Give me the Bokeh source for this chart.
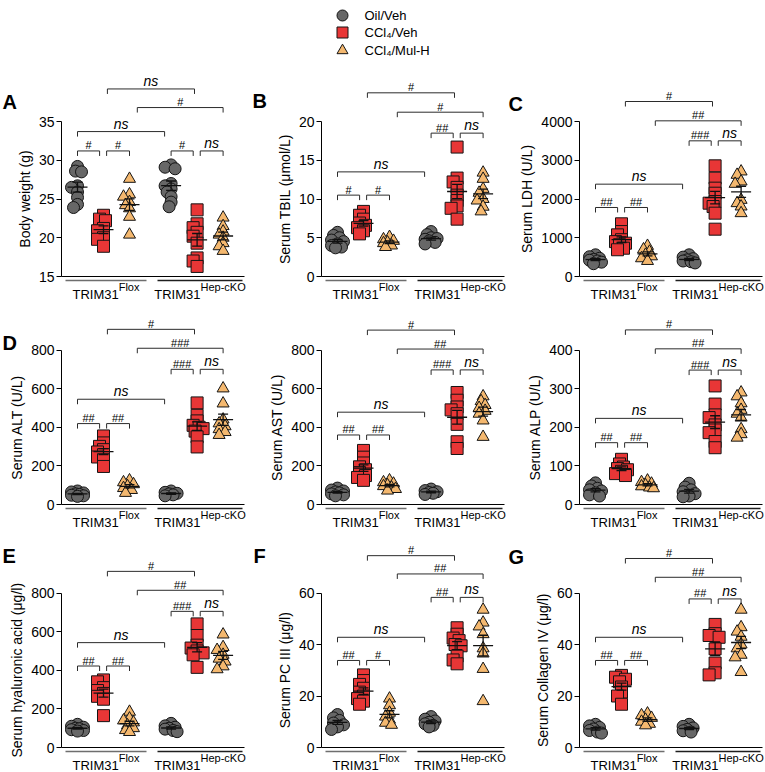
import numpy as np
from bokeh.plotting import figure
from bokeh.models import Range1d, FixedTicker, ColumnDataSource
from bokeh.layouts import column, row
from bokeh.core.properties import value
from bokeh.embed import file_html
from bokeh.resources import INLINE

FONT = "Liberation Sans"

# ---------------- data ----------------
group_names = ["Oil/Veh", "CCl\u2084/Veh", "CCl\u2084/Mul-H"]
geno_main = "TRIM31"
geno_sup = ["Flox", "Hep-cKO"]

# A  Body weight (g)
bw_flox_oil = [29.2, 28.6, 28.5, 26.7, 26.5, 25.9, 25.2, 24.3, 23.9]
bw_flox_ccl4 = [22.9, 22.4, 22.2, 21.2, 20.9, 20.0, 19.8, 18.9]
bw_flox_mul = [27.6, 25.6, 25.3, 24.6, 24.2, 23.8, 22.7, 20.4]
bw_ko_oil = [29.4, 29.1, 28.9, 27.0, 26.7, 26.3, 25.9, 25.3, 24.6, 24.0]
bw_ko_ccl4 = [23.6, 21.8, 21.3, 20.7, 20.2, 19.3, 17.4, 17.0, 16.3]
bw_ko_mul = [22.6, 21.5, 20.8, 20.4, 20.0, 19.3, 18.9, 18.3]
bw_sig = [(0, 1, 31.2, "#"), (1, 2, 31.2, "#"), (3, 4, 31.2, "#"), (4, 5, 31.2, "ns"),
          (0, 3, 33.7, "ns"), (2, 5, 36.8, "#"), (1, 4, 39.2, "ns")]

# B  Serum TBIL
tbil_flox_oil = [5.7, 5.3, 5.0, 4.7, 4.5, 4.2, 4.0, 3.8, 3.7]
tbil_flox_ccl4 = [8.4, 7.9, 7.4, 6.9, 6.6, 6.3, 5.9, 5.5]
tbil_flox_mul = [5.1, 4.8, 4.6, 4.4, 4.3, 4.0, 3.8]
tbil_ko_oil = [5.8, 5.4, 5.0, 4.9, 4.8, 4.6, 4.4, 4.2]
tbil_ko_ccl4 = [16.7, 12.7, 12.2, 11.5, 10.5, 9.8, 9.1, 8.8, 7.4]
tbil_ko_mul = [13.4, 12.6, 11.3, 10.8, 10.0, 9.8, 9.0, 8.4]
tbil_sig = [(0, 1, 10.5, "#"), (1, 2, 10.5, "#"), (3, 4, 18.5, "##"), (4, 5, 18.5, "ns"),
            (0, 3, 13.5, "ns"), (2, 5, 21.2, "#"), (1, 4, 23.7, "#")]

# C  Serum LDH
ldh_flox_oil = [560, 510, 470, 440, 420, 400, 370, 330]
ldh_flox_ccl4 = [1360, 1160, 1075, 950, 900, 860, 820, 730, 690]
ldh_flox_mul = [790, 700, 640, 560, 520, 470, 400]
ldh_ko_oil = [560, 500, 460, 430, 400, 380, 350]
ldh_ko_ccl4 = [2856, 2538, 2280, 2150, 1935, 1892, 1806, 1634, 1221]
ldh_ko_mul = [2710, 2624, 2452, 2391, 1978, 1892, 1806, 1634]
ldh_sig = [(0, 1, 1781, "##"), (1, 2, 1781, "##"), (3, 4, 3501, "###"), (4, 5, 3501, "ns"),
           (0, 3, 2383, "ns"), (2, 5, 4017, "##"), (1, 4, 4516, "#")]

# D  Serum ALT
alt_flox_oil = [70, 65, 60, 55, 52, 48, 45, 42]
alt_flox_ccl4 = [355, 319, 301, 284, 272, 258, 246, 232, 197]
alt_flox_mul = [125, 115, 105, 95, 85, 75, 60]
alt_ko_oil = [70, 63, 58, 55, 50, 45]
alt_ko_ccl4 = [526, 462, 433, 410, 400, 393, 380, 350, 298]
alt_ko_mul = [601, 523, 440, 420, 405, 390, 375, 360]
alt_sig = [(0, 1, 419, "##"), (1, 2, 419, "##"), (3, 4, 700, "###"), (4, 5, 700, "ns"),
           (0, 3, 545, "ns"), (2, 5, 809, "###"), (1, 4, 907, "#")]

# Serum AST
ast_flox_oil = [85, 75, 70, 65, 60, 55, 50, 45]
ast_flox_ccl4 = [280, 245, 215, 195, 180, 165, 150, 140, 125]
ast_flox_mul = [125, 115, 108, 100, 95, 88, 80, 72]
ast_ko_oil = [80, 72, 66, 62, 58, 52]
ast_ko_ccl4 = [580, 540, 505, 490, 470, 415, 325, 290]
ast_ko_mul = [560, 535, 515, 500, 485, 470, 435, 350]
ast_sig = [(0, 1, 360, "##"), (1, 2, 360, "##"), (3, 4, 697, "###"), (4, 5, 697, "ns"),
           (0, 3, 478, "ns"), (2, 5, 805, "##"), (1, 4, 903, "#")]

# Serum ALP
alp_flox_oil = [56, 48, 42, 38, 35, 30, 25, 22]
alp_flox_ccl4 = [117, 105, 97, 93, 90, 86, 80, 75]
alp_flox_mul = [62, 58, 54, 50, 47, 44, 42]
alp_ko_oil = [55, 45, 38, 33, 28, 22, 20]
alp_ko_ccl4 = [307, 260, 232, 225, 206, 193, 186, 163, 147]
alp_ko_mul = [290, 280, 262, 245, 235, 225, 195, 182, 173]
alp_sig = [(0, 1, 160, "##"), (1, 2, 160, "##"), (3, 4, 348, "###"), (4, 5, 348, "ns"),
           (0, 3, 223, "ns"), (2, 5, 403, "##"), (1, 4, 452, "#")]

# E  Serum hyaluronic acid
ha_flox_oil = [120, 110, 105, 100, 97, 92, 88, 85]
ha_flox_ccl4 = [350, 340, 310, 295, 280, 265, 250, 165]
ha_flox_mul = [185, 150, 140, 130, 115, 100, 90, 80]
ha_ko_oil = [125, 112, 105, 100, 95, 88, 82]
ha_ko_ccl4 = [640, 580, 530, 515, 500, 490, 480, 415]
ha_ko_mul = [585, 520, 505, 480, 460, 445, 420, 405]
ha_sig = [(0, 1, 422, "##"), (1, 2, 422, "##"), (3, 4, 705, "###"), (4, 5, 705, "ns"),
          (0, 3, 543, "ns"), (2, 5, 814, "##"), (1, 4, 912, "#")]

# F  Serum PC III
pc3_flox_oil = [12.8, 11.5, 10.5, 9.5, 8.8, 8.0, 7.0]
pc3_flox_ccl4 = [28.2, 26.0, 24.5, 23.0, 21.5, 20.0, 19.0, 18.0, 16.8]
pc3_flox_mul = [19.0, 16.4, 13.5, 12.0, 10.8, 9.6, 8.8]
pc3_ko_oil = [12.0, 11.0, 10.3, 9.8, 9.2, 8.6, 8.0]
pc3_ko_ccl4 = [46.5, 44.0, 42.5, 41.5, 40.0, 39.5, 35.5, 34.0, 32.5]
pc3_ko_mul = [53.5, 48.5, 47.0, 44.0, 38.5, 36.5, 30.5, 18.0]
pc3_sig = [(0, 1, 33.8, "##"), (1, 2, 33.8, "#"), (3, 4, 58.3, "##"), (4, 5, 58.3, "ns"),
           (0, 3, 42.8, "ns"), (2, 5, 67.4, "##"), (1, 4, 74.5, "#")]

# G  Serum Collagen IV
c4_flox_oil = [9.0, 8.4, 7.8, 7.2, 6.6, 6.0, 5.6]
c4_flox_ccl4 = [28.0, 27.3, 26.5, 25.5, 23.5, 21.5, 20.0, 16.8]
c4_flox_mul = [13.2, 12.5, 11.5, 10.8, 10.0, 9.2, 8.6]
c4_ko_oil = [9.0, 8.2, 7.6, 7.0, 6.5, 6.0]
c4_ko_ccl4 = [47.8, 44.2, 43.5, 42.8, 38.3, 32.8, 29.0, 28.2]
c4_ko_mul = [53.5, 46.7, 45.0, 43.0, 40.0, 38.5, 36.0, 35.0, 29.3]
c4_sig = [(0, 1, 33.8, "##"), (1, 2, 33.8, "##"), (3, 4, 57.7, "##"), (4, 5, 57.7, "ns"),
          (0, 3, 42.8, "ns"), (2, 5, 66.1, "##"), (1, 4, 73.4, "#")]

# ---------------- style / layout ----------------
MARKERS = ["circle", "square", "triangle"]
FILLS = ["#676767", "#e83636", "#f4b86f"]
EDGE = "#141414"

KX = 26.0                              # px per x unit
GX = [1.0, 2.0, 3.0, 4.6, 5.6, 6.6]    # group slots
X0 = 1.0 - 16.0 / KX                   # y-axis spine position

COL_W = [252, 254, 258]
COL_SPINE = [61, 69, 73]
ROW_H = [242, 232, 239]
ROW_AT = [63.0, 49.5, 60.5]
ROW_AB = [218.0, 204.0, 215.0]


def xpx(d):
    return X0 + d / KX


def swarm(vals, k, d=5.0, step=2.0):
    vals = np.asarray(vals, float)
    order = np.argsort(-vals)
    cands = [0.0]
    for m in range(1, 4):
        cands += [-m * step, m * step]
    placed, offs = [], np.zeros(len(vals))
    for i in order:
        y = vals[i] * k
        best, bestd = cands[0], -1.0
        for c in cands:
            dm = min([np.hypot(c - a, y - b) for a, b in placed] or [99.0])
            if dm >= d:
                best = c
                break
            if dm > bestd:
                best, bestd = c, dm
        placed.append((best, y))
        offs[i] = best
    return offs / KX


def bracket_x(i, j):
    if j - i == 1:
        if i in (0, 3):
            return GX[i], GX[j] - 0.15
        return GX[i] + 0.12, GX[j]
    if i == 0:
        return GX[0], GX[3] - 0.25
    if i == 1:
        return GX[1] + 0.15, GX[4] - 0.1
    return GX[2] + 0.3, GX[5]


def make_panel(ci, ri, data, vmin, vmax, ticks, ytitle, sig, letter=None, letter_pos=None):
    W, S = COL_W[ci], COL_SPINE[ci]
    H, at, ab = ROW_H[ri], ROW_AT[ri], ROW_AB[ri]
    k = (ab - at) / (vmax - vmin)
    ytop = vmax + at / k
    ybot = vmin - (H - ab) / k
    xl = X0 - S / KX
    p = figure(width=W, height=H, x_range=Range1d(xl, xl + W / KX),
               y_range=Range1d(ybot, ytop), x_axis_type=None,
               toolbar_location=None, output_backend="svg",
               min_border=0, outline_line_color=None)
    p.grid.visible = False
    ax = p.yaxis[0]
    ax.fixed_location = X0
    ax.bounds = (vmin, vmax)
    ax.ticker = FixedTicker(ticks=ticks)
    ax.minor_tick_line_color = None
    ax.major_tick_in = 0
    ax.major_tick_out = 5
    ax.major_label_standoff = 2
    ax.axis_line_color = "black"
    ax.major_tick_line_color = "black"
    ax.major_label_text_font = FONT
    ax.major_label_text_font_size = "14px"
    ax.major_label_text_color = "black"

    # y-axis title, centred on the axis span
    lab_w = max(len(str(t)) for t in ticks) * 0.556 * 14
    tx = X0 - (5 + 2 + lab_w + 6 + 8) / KX
    p.text(x=[tx], y=[(vmin + vmax) / 2.0], text=[ytitle], angle=np.pi / 2,
           text_align="center", text_baseline="middle",
           text_font=value(FONT), text_font_size=value("14px"), text_color="black")

    # x axis baseline
    p.segment(x0=[X0], y0=[vmin], x1=[xpx(183)], y1=[vmin], line_color="black", line_width=1)
    # genotype underlines + labels
    uy = vmin - 4.0 / k
    p.segment(x0=[xpx(4), xpx(96)], y0=[uy, uy], x1=[xpx(85), xpx(181)], y1=[uy, uy],
              line_color=["#6e6e6e", "#1e1e1e"], line_width=1.4)
    w_main = 46.2
    w_sup = [20.8, 45.2]
    centers = [44.5, 138.5]
    anchors = [xpx(c + (w_main - w) / 2.0) for c, w in zip(centers, w_sup)]
    p.text(x=anchors, y=[vmin - 17.5 / k] * 2, text=[geno_main] * 2,
           text_align="right", text_baseline="middle",
           text_font=value(FONT), text_font_size=value("13px"), text_color="black")
    p.text(x=anchors, y=[vmin - 10.0 / k] * 2, text=geno_sup,
           text_align="left", text_baseline="middle",
           text_font=value(FONT), text_font_size=value("11px"), text_color="black")

    # significance brackets
    t = 5.0 / k
    bxs, bys = [], []
    ns_x, ns_y, ns_t, h_x, h_y, h_t = [], [], [], [], [], []
    for (i, j, y, lab) in sig:
        a, b = bracket_x(i, j)
        bxs.append([a, a, b, b])
        bys.append([y - t, y, y, y - t])
        if lab == "ns":
            ns_x.append((a + b) / 2); ns_y.append(y + 8.0 / k); ns_t.append(lab)
        else:
            h_x.append((a + b) / 2); h_y.append(y + 5.5 / k); h_t.append(lab)
    p.multi_line(xs=bxs, ys=bys, line_color="#2b2b2b", line_width=1)
    p.text(x=ns_x, y=ns_y, text=ns_t, text_align="center", text_baseline="middle",
           text_font=value(FONT), text_font_size=value("14px"),
           text_font_style="italic", text_color="black")
    p.text(x=h_x, y=h_y, text=h_t, text_align="center", text_baseline="middle",
           text_font=value(FONT), text_font_size=value("11px"), text_color="black")

    # points with mean +/- SEM
    mx0, mx1, my, ey1 = [], [], [], []
    for gi, vals in enumerate(data):
        vals = np.asarray(vals, float)
        xs = GX[gi] + swarm(vals, k)
        src = ColumnDataSource(dict(x=xs, y=vals))
        p.scatter(x="x", y="y", source=src, marker=MARKERS[gi % 3], size=12,
                  fill_color=FILLS[gi % 3], line_color=EDGE, line_width=1)
        m = vals.mean()
        s = vals.std(ddof=1) / np.sqrt(len(vals))
        mx0 += [GX[gi] - 10 / KX, GX[gi] - 5 / KX, GX[gi] - 5 / KX, GX[gi]]
        mx1 += [GX[gi] + 10 / KX, GX[gi] + 5 / KX, GX[gi] + 5 / KX, GX[gi]]
        my += [m, m + s, m - s, m - s]
        ey1 += [m, m + s, m - s, m + s]
    p.segment(x0=mx0, y0=my, x1=mx1, y1=ey1, line_color="#111111", line_width=1.3)

    if letter:
        lx, lyr = letter_pos
        p.text(x=[xl + lx / KX], y=[vmax + (at - lyr) / k], text=[letter],
               text_align="left", text_baseline="middle",
               text_font=value(FONT), text_font_size=value("20px"),
               text_font_style="bold", text_color="black")
    return p


pA = make_panel(0, 0, [bw_flox_oil, bw_flox_ccl4, bw_flox_mul, bw_ko_oil, bw_ko_ccl4, bw_ko_mul],
                15, 35, [15, 20, 25, 30, 35], "Body weight (g)", bw_sig, "A", (2, 43.5))
pB = make_panel(1, 0, [tbil_flox_oil, tbil_flox_ccl4, tbil_flox_mul, tbil_ko_oil, tbil_ko_ccl4, tbil_ko_mul],
                0, 20, [0, 5, 10, 15, 20], "Serum TBIL (\u03bcmol/L)", tbil_sig, "B", (0, 42))
pC = make_panel(2, 0, [ldh_flox_oil, ldh_flox_ccl4, ldh_flox_mul, ldh_ko_oil, ldh_ko_ccl4, ldh_ko_mul],
                0, 4000, [0, 1000, 2000, 3000, 4000], "Serum LDH (U/L)", ldh_sig, "C", (2, 45.5))
pD = make_panel(0, 1, [alt_flox_oil, alt_flox_ccl4, alt_flox_mul, alt_ko_oil, alt_ko_ccl4, alt_ko_mul],
                0, 800, [0, 200, 400, 600, 800], "Serum ALT (U/L)", alt_sig, "D", (2, 42))
pAST = make_panel(1, 1, [ast_flox_oil, ast_flox_ccl4, ast_flox_mul, ast_ko_oil, ast_ko_ccl4, ast_ko_mul],
                  0, 800, [0, 200, 400, 600, 800], "Serum AST (U/L)", ast_sig)
pALP = make_panel(2, 1, [alp_flox_oil, alp_flox_ccl4, alp_flox_mul, alp_ko_oil, alp_ko_ccl4, alp_ko_mul],
                  0, 400, [0, 100, 200, 300, 400], "Serum ALP (U/L)", alp_sig)
pE = make_panel(0, 2, [ha_flox_oil, ha_flox_ccl4, ha_flox_mul, ha_ko_oil, ha_ko_ccl4, ha_ko_mul],
                0, 800, [0, 200, 400, 600, 800], "Serum hyaluronic acid (\u03bcg/l)", ha_sig, "E", (2, 23.5))
pF = make_panel(1, 2, [pc3_flox_oil, pc3_flox_ccl4, pc3_flox_mul, pc3_ko_oil, pc3_ko_ccl4, pc3_ko_mul],
                0, 60, [0, 20, 40, 60], "Serum PC III (\u03bcg/l)", pc3_sig, "F", (1, 23.5))
pG = make_panel(2, 2, [c4_flox_oil, c4_flox_ccl4, c4_flox_mul, c4_ko_oil, c4_ko_ccl4, c4_ko_mul],
                0, 60, [0, 20, 40, 60], "Serum Collagen IV (\u03bcg/l)", c4_sig, "G", (2, 24.5))

# legend strip
lg = figure(width=764, height=58, x_range=Range1d(0, 764), y_range=Range1d(58, 0),
            x_axis_type=None, y_axis_type=None, toolbar_location=None,
            output_backend="svg", min_border=0, outline_line_color=None)
lg.grid.visible = False
ly = [15, 32, 50]
for i in range(3):
    lg.scatter(x=[342], y=[ly[i]], marker=MARKERS[i], size=11,
               fill_color=FILLS[i], line_color=EDGE, line_width=1)
lg.text(x=[364] * 3, y=ly, text=group_names, text_align="left", text_baseline="middle",
        text_font=value(FONT), text_font_size=value("13px"), text_color="black")

layout = column(lg, row(pA, pB, pC), row(pD, pAST, pALP), row(pE, pF, pG))
open("out.html", "w").write(file_html(layout, INLINE, "TRIM31 serum markers"))
